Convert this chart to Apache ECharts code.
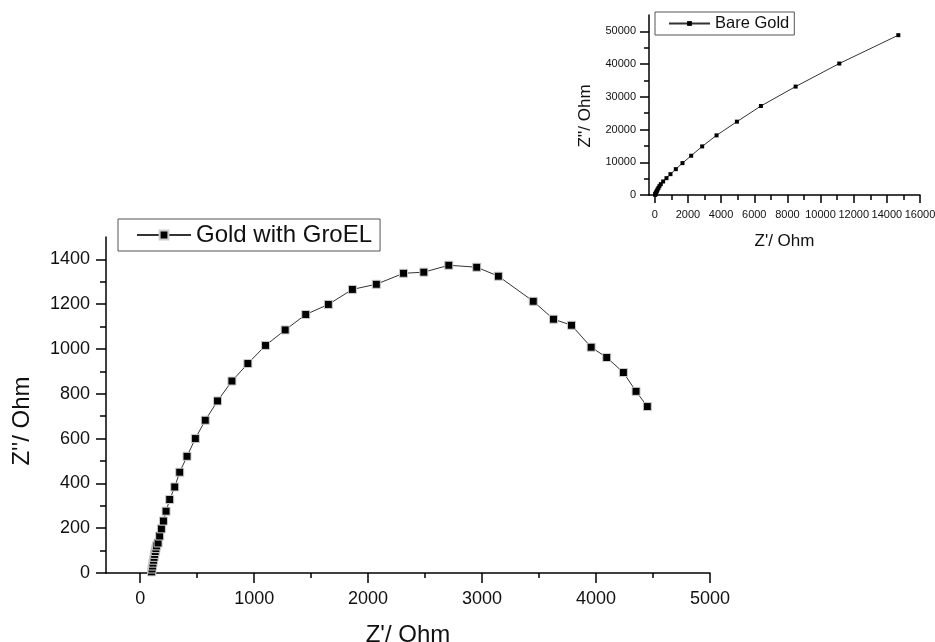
<!DOCTYPE html>
<html>
<head>
<meta charset="utf-8">
<script src="https://cdn.jsdelivr.net/npm/echarts@6/dist/echarts.min.js"></script>
<style>
html,body{margin:0;padding:0;background:#fff;}
#chart{width:935px;height:642px;}
</style>
</head>
<body>
<div id="chart"></div>
<script>
// Main chart: Gold with GroEL (Nyquist plot)
const groelZre = [100,104,108,112,117,122,127,132,138,144,157,171,186,204,227,259,303,347,411,484,571,679,805,945,1100,1272,1453,1651,1862,2072,2311,2489,2708,2953,3143,3449,3627,3785,3957,4094,4240,4351,4450];
const groelZim = [5,18,31,44,57,70,83,96,109,121,134,165,197,232,276,328,384,450,521,600,682,768,857,935,1016,1085,1154,1199,1266,1289,1338,1343,1374,1365,1325,1213,1133,1106,1008,962,895,811,743];

// Inset: Bare Gold
const bareZre = [20,30,40,55,75,100,130,170,220,280,362,503,704,945,1268,1671,2194,2858,3724,4952,6401,8496,11130,14692];
const bareZim = [60,180,330,520,750,1000,1300,1700,2150,2700,3310,4130,5150,6370,7900,9740,12000,14850,18220,22410,27190,33130,40170,48836];

// Tick values
const mainXTicks = [0,1000,2000,3000,4000,5000];
const mainXMinor = [500,1500,2500,3500,4500];
const mainYTicks = [0,200,400,600,800,1000,1200,1400];
const mainYMinor = [100,300,500,700,900,1100,1300];
const insetXTicks = [0,2000,4000,6000,8000,10000,12000,14000,16000];
const insetXMinor = [1000,3000,5000,7000,9000,11000,13000,15000];
const insetYTicks = [0,10000,20000,30000,40000,50000];
const insetYMinor = [5000,15000,25000,35000,45000];

const seriesNames = ['Gold with GroEL','Bare Gold'];

const zip = (a,b) => a.map((v,i)=>[v,b[i]]);
const FONT = '"Liberation Sans", Arial, sans-serif';
const plain = v => String(v);
const axisLine = {show:true, onZero:false, lineStyle:{color:'#000', width:1.5}};
const hiddenLine = {show:false, onZero:false};

function majorAxis(opts){
  return Object.assign({
    type:'value', splitLine:{show:false}, axisLine:axisLine,
  }, opts);
}

const chart = echarts.init(document.getElementById('chart'), null, {renderer:'canvas'});
chart.setOption({
  backgroundColor:'#fff',
  animation:false,
  textStyle:{fontFamily:FONT},
  grid:[
    {left:106, top:237, width:604, height:336, containLabel:false, outerBoundsMode:'none'},
    {left:649, top:15, width:271, height:180, containLabel:false, outerBoundsMode:'none'}
  ],
  legend:[
    {data:[seriesNames[0]], left:118, top:219, orient:'horizontal',
     padding:[4,8,4,18], itemWidth:54, itemHeight:11, itemGap:0,
     borderColor:'#555', borderWidth:1,
     textStyle:{fontSize:24, color:'#111', fontFamily:FONT}},
    {data:[seriesNames[1]], left:655, top:12,
     padding:[3,5,3,13], itemWidth:41, itemHeight:6, itemGap:0,
     borderColor:'#555', borderWidth:1,
     textStyle:{fontSize:16.5, color:'#111', fontFamily:FONT}}
  ],
  xAxis:[
    majorAxis({gridIndex:0, min:-300, max:5000,
      name:"Z'/ Ohm", nameLocation:'middle', nameGap:50,
      nameTextStyle:{fontSize:24, color:'#111', fontFamily:FONT},
      axisTick:{show:true, length:10, customValues:mainXTicks, lineStyle:{color:'#000', width:1.5}},
      axisLabel:{customValues:mainXTicks, formatter:plain, fontSize:18, color:'#111', margin:17, fontFamily:FONT}}),
    majorAxis({gridIndex:0, min:-300, max:5000, position:'bottom',
      axisLine:hiddenLine, axisLabel:{show:false},
      axisTick:{show:true, length:5, customValues:mainXMinor, lineStyle:{color:'#000', width:1.5}}}),
    majorAxis({gridIndex:1, min:-350, max:16000,
      name:"Z'/ Ohm", nameLocation:'middle', nameGap:38,
      nameTextStyle:{fontSize:17, color:'#111', fontFamily:FONT},
      axisTick:{show:true, length:8, customValues:insetXTicks, lineStyle:{color:'#000', width:1.5}},
      axisLabel:{customValues:insetXTicks, formatter:plain, fontSize:11, color:'#111', margin:14, fontFamily:FONT}}),
    majorAxis({gridIndex:1, min:-350, max:16000, position:'bottom',
      axisLine:hiddenLine, axisLabel:{show:false},
      axisTick:{show:true, length:5, customValues:insetXMinor, lineStyle:{color:'#000', width:1.5}}})
  ],
  yAxis:[
    majorAxis({gridIndex:0, min:0, max:1500,
      name:"Z''/ Ohm", nameLocation:'middle', nameGap:72, nameRotate:90,
      nameTextStyle:{fontSize:24, color:'#111', fontFamily:FONT, padding:[0,32,0,0]},
      axisTick:{show:true, length:10, customValues:mainYTicks, lineStyle:{color:'#000', width:1.5}},
      axisLabel:{customValues:mainYTicks, formatter:plain, fontSize:18, color:'#111', margin:16, fontFamily:FONT}}),
    majorAxis({gridIndex:0, min:0, max:1500, position:'left',
      axisLine:hiddenLine, axisLabel:{show:false},
      axisTick:{show:true, length:6, customValues:mainYMinor, lineStyle:{color:'#000', width:1.5}}}),
    majorAxis({gridIndex:1, min:0, max:55000,
      name:"Z''/ Ohm", nameLocation:'middle', nameGap:55, nameRotate:90,
      nameTextStyle:{fontSize:17, color:'#111', fontFamily:FONT, padding:[0,22,0,0]},
      axisTick:{show:true, length:9, customValues:insetYTicks, lineStyle:{color:'#000', width:1.5}},
      axisLabel:{customValues:insetYTicks, formatter:plain, fontSize:11, color:'#111', margin:13, fontFamily:FONT}}),
    majorAxis({gridIndex:1, min:0, max:55000, position:'left',
      axisLine:hiddenLine, axisLabel:{show:false},
      axisTick:{show:true, length:5, customValues:insetYMinor, lineStyle:{color:'#000', width:1.5}}})
  ],
  series:[
    {name:seriesNames[0], type:'line', xAxisIndex:0, yAxisIndex:0,
     data:zip(groelZre, groelZim), symbol:'rect', symbolSize:8, showAllSymbol:true,
     lineStyle:{color:'#333', width:1},
     itemStyle:{color:'#000', borderColor:'#ccc', borderWidth:1}},
    {name:seriesNames[1], type:'line', xAxisIndex:2, yAxisIndex:2,
     data:zip(bareZre, bareZim), symbol:'rect', symbolSize:4, showAllSymbol:true,
     lineStyle:{color:'#333', width:1},
     itemStyle:{color:'#000', borderColor:'#000', borderWidth:0}}
  ]
});
</script>
</body>
</html>
